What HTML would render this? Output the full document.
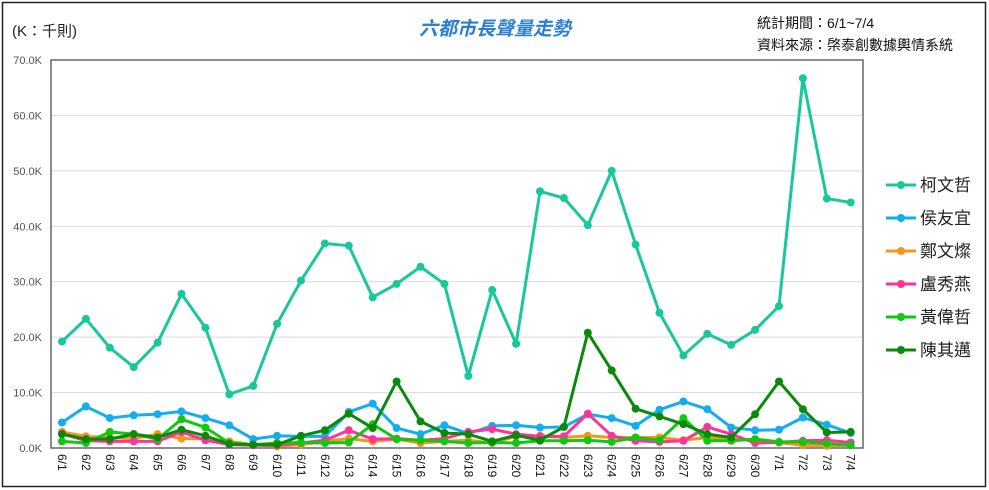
<!DOCTYPE html>
<html><head><meta charset="utf-8"><style>
body{margin:0;background:#fff;}
svg{display:block;font-family:"Liberation Sans","Noto Sans CJK TC",sans-serif;}
</style></head><body>
<svg id="c" width="989" height="490" xmlns="http://www.w3.org/2000/svg">
<rect x="2.5" y="2.5" width="983" height="484" fill="#fff" stroke="#222" stroke-width="1.5"/>
<text x="12" y="36" font-size="15" fill="#222">(K：千則)</text>
<text x="495" y="35" font-size="19" font-weight="bold" font-style="italic" fill="#2a7fd4" text-anchor="middle">六都市長聲量走勢</text>
<text x="757" y="28" font-size="14" fill="#111">統計期間：6/1~7/4</text>
<text x="757" y="50" font-size="14" fill="#111">資料來源：棨泰創數據輿情系統</text>
<g id="g"></g>
</svg>
<script>
const NS="http://www.w3.org/2000/svg",g=document.getElementById('g');
function el(t,a,txt){const e=document.createElementNS(NS,t);for(const k in a)e.setAttribute(k,a[k]);if(txt!=null)e.textContent=txt;g.appendChild(e);return e;}
const L=51,R=863,T=60,B=448,x0=62,dx=23.9,ky=(B-T)/70;
for(let i=0;i<=7;i++){const y=B-i*10*ky;if(i>0)el('line',{x1:L,x2:R,y1:y,y2:y,stroke:'#d9d9d9','stroke-width':1});
el('text',{x:42,y:y+4,'font-size':11,fill:'#555','text-anchor':'end'},(i*10).toFixed(1)+'K');}
el('rect',{x:L,y:T,width:R-L,height:B-T,fill:'none',stroke:'#666','stroke-width':1.5});
const labels=[];for(let d=1;d<=30;d++)labels.push('6/'+d);for(let d=1;d<=4;d++)labels.push('7/'+d);
labels.forEach((s,i)=>{const x=x0+i*dx;el('text',{x:0,y:0,'font-size':12,fill:'#111',transform:`translate(${x-4},${454}) rotate(90)`},s);});
const S=[
['柯文哲','#19c89a',[19.2,23.3,18.1,14.6,19.0,27.8,21.7,9.7,11.2,22.4,30.2,36.9,36.5,27.2,29.6,32.7,29.6,13.0,28.5,18.8,46.3,45.1,40.2,50.0,36.7,24.4,16.7,20.6,18.6,21.3,25.6,66.7,45.0,44.3]],
['侯友宜','#12aef0',[4.6,7.5,5.4,5.9,6.1,6.6,5.4,4.1,1.6,2.2,2.1,2.1,6.5,8.0,3.6,2.5,4.1,2.6,4.0,4.1,3.7,3.8,6.1,5.4,4.0,6.9,8.4,7.0,3.7,3.2,3.3,5.5,4.2,2.7]],
['鄭文燦','#f7941d',[2.9,2.1,1.9,1.7,2.5,1.7,1.7,1.2,0.6,0.3,0.6,1.2,1.7,1.2,1.6,0.9,1.2,1.4,0.9,2.1,2.2,1.9,2.2,1.9,1.9,1.9,1.4,1.9,1.6,1.4,1.0,0.5,0.4,0.5]],
['盧秀燕','#ff3399',[2.6,1.3,1.2,1.2,1.2,2.9,1.4,0.6,0.5,0.5,0.9,1.4,3.2,1.6,1.7,1.4,1.7,2.9,3.4,2.5,2.1,2.1,6.2,2.2,1.3,1.1,1.3,3.8,2.5,0.9,1.0,1.3,1.4,1.0]],
['黃偉哲','#10c810',[1.2,0.9,2.9,2.5,1.6,5.2,3.7,0.9,0.6,0.9,1.0,0.9,1.0,4.3,1.6,1.4,1.2,0.9,1.0,0.9,1.3,1.3,1.4,1.1,1.9,1.4,5.4,1.3,1.3,1.6,1.1,1.1,0.8,0.5]],
['陳其邁','#0a8a0a',[2.5,1.6,1.6,2.5,1.9,3.3,2.2,0.7,0.6,0.6,2.2,3.2,6.2,3.6,12.0,4.8,2.7,2.5,1.2,2.3,1.4,3.8,20.8,14.0,7.1,5.7,4.3,2.5,1.9,6.1,12.0,7.0,2.8,2.9]]];
S.forEach((s,k)=>{const pts=s[2].map((v,i)=>[x0+i*dx,B-v*ky]);
el('polyline',{points:pts.map(p=>p.join(',')).join(' '),fill:'none',stroke:s[1],'stroke-width':3,'stroke-linejoin':'round'});
pts.forEach(p=>el('circle',{cx:p[0],cy:p[1],r:4,fill:s[1]}));
const ly=185+k*33;el('line',{x1:886,x2:916,y1:ly,y2:ly,stroke:s[1],'stroke-width':3});
el('circle',{cx:901,cy:ly,r:4,fill:s[1]});
el('text',{x:920,y:ly+6,'font-size':17,fill:'#222'},s[0]);});
</script>
</body></html>
